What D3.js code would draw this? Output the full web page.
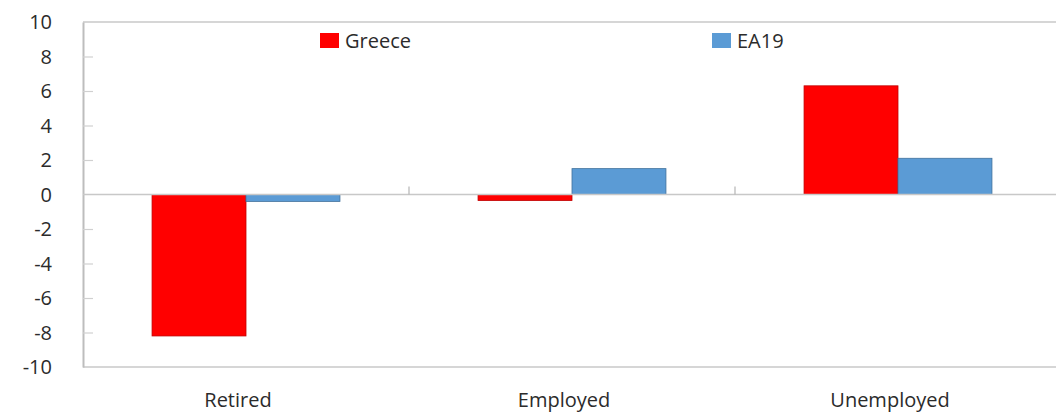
<!DOCTYPE html>
<html>
<head>
<meta charset="utf-8">
<script src="https://cdn.jsdelivr.net/npm/d3@7"></script>
<style>
  html, body { margin: 0; padding: 0; background: #fff; }
  svg { display: block; font-family: "Open Sans", "Noto Sans", sans-serif; }
</style>
</head>
<body>
<svg id="chart" width="1056" height="416"></svg>
<script>
// categories and series
const categories = ["Retired", "Employed", "Unemployed"]
const seriesNames = ["Greece", "EA19"]
const greece = [-8.2, -0.35, 6.3]
const ea19 = [-0.4, 1.5, 2.1]
const yTicks = [10, 8, 6, 4, 2, 0, -2, -4, -6, -8, -10]

const colors = { Greece: "#ff0000", EA19: "#5b9bd5" }
const strokes = { Greece: "#c00000", EA19: "#41719c" }

const svg = d3.select("#chart")
const plot = { left: 83, right: 1061, top: 22, bottom: 367 }

const x = d3.scaleBand()
  .domain(categories)
  .range([plot.left, plot.right])
  .paddingInner(0)
  .paddingOuter(0)

const inner = d3.scaleBand()
  .domain(seriesNames)
  .range([0, x.bandwidth()])
  .paddingOuter(0.735)
  .paddingInner(0)

const y = d3.scaleLinear().domain([-10, 10]).range([plot.bottom, plot.top])

// plot border (top, bottom)
svg.append("line")
  .attr("x1", plot.left).attr("x2", 1056)
  .attr("y1", plot.top).attr("y2", plot.top)
  .attr("stroke", "#c8c8c8").attr("stroke-width", 1.5)
svg.append("line")
  .attr("x1", plot.left).attr("x2", 1056)
  .attr("y1", plot.bottom).attr("y2", plot.bottom)
  .attr("stroke", "#c8c8c8").attr("stroke-width", 1.5)

// y axis
const yAxis = svg.append("g")
  .attr("transform", `translate(${plot.left},0)`)
  .call(d3.axisRight(y).tickValues(yTicks).tickSize(10).tickSizeOuter(0).tickFormat(""))
yAxis.select(".domain").attr("stroke", "#bdbdbd").attr("stroke-width", 2)
yAxis.selectAll(".tick line").attr("stroke", "#d0d0d0").attr("stroke-width", 1.2)
  .filter(d => d === 10 || d === -10 || d === 0).remove()

svg.append("g")
  .selectAll("text")
  .data(yTicks)
  .enter()
  .append("text")
  .attr("x", 52)
  .attr("y", d => y(d))
  .attr("dy", "0.36em")
  .attr("text-anchor", "end")
  .attr("font-size", "20px")
  .attr("fill", "#2b2b2b")
  .text(d => d)

// bars
const rows = categories.map((c, i) => ({ cat: c, Greece: greece[i], EA19: ea19[i] }))

svg.append("g")
  .selectAll("g")
  .data(rows)
  .enter()
  .append("g")
  .attr("transform", d => `translate(${x(d.cat)},0)`)
  .selectAll("rect")
  .data(d => seriesNames.map(s => ({ s: s, v: d[s] })))
  .enter()
  .append("rect")
  .attr("x", d => inner(d.s))
  .attr("width", inner.bandwidth())
  .attr("y", d => y(Math.max(0, d.v)))
  .attr("height", d => Math.abs(y(d.v) - y(0)))
  .attr("fill", d => colors[d.s])
  .attr("stroke", d => strokes[d.s])
  .attr("stroke-width", 0.8)

// zero line with category ticks
svg.append("line")
  .attr("x1", plot.left).attr("x2", 1056)
  .attr("y1", y(0)).attr("y2", y(0))
  .attr("stroke", "#c8c8c8").attr("stroke-width", 1.5)

svg.append("g")
  .selectAll("line")
  .data(categories.slice(1))
  .enter()
  .append("line")
  .attr("x1", d => x(d)).attr("x2", d => x(d))
  .attr("y1", y(0)).attr("y2", y(0) - 8)
  .attr("stroke", "#b5b5b5").attr("stroke-width", 1.2)

// category labels
svg.append("g")
  .selectAll("text")
  .data(categories)
  .enter()
  .append("text")
  .attr("x", d => x(d) + x.bandwidth() / 2 - 8)
  .attr("y", 407)
  .attr("text-anchor", "middle")
  .attr("font-size", "20px")
  .attr("fill", "#2b2b2b")
  .text(d => d)

// legend
const legendPos = { Greece: 320, EA19: 712 }
const legend = svg.append("g")
  .selectAll("g")
  .data(seriesNames)
  .enter()
  .append("g")
  .attr("transform", d => `translate(${legendPos[d]},33)`)
legend.append("rect")
  .attr("width", 19).attr("height", 15)
  .attr("fill", d => colors[d])
legend.append("text")
  .attr("x", 25).attr("y", 8)
  .attr("dy", "0.36em")
  .attr("font-size", "20px")
  .attr("fill", "#2b2b2b")
  .text(d => d)
</script>
</body>
</html>
